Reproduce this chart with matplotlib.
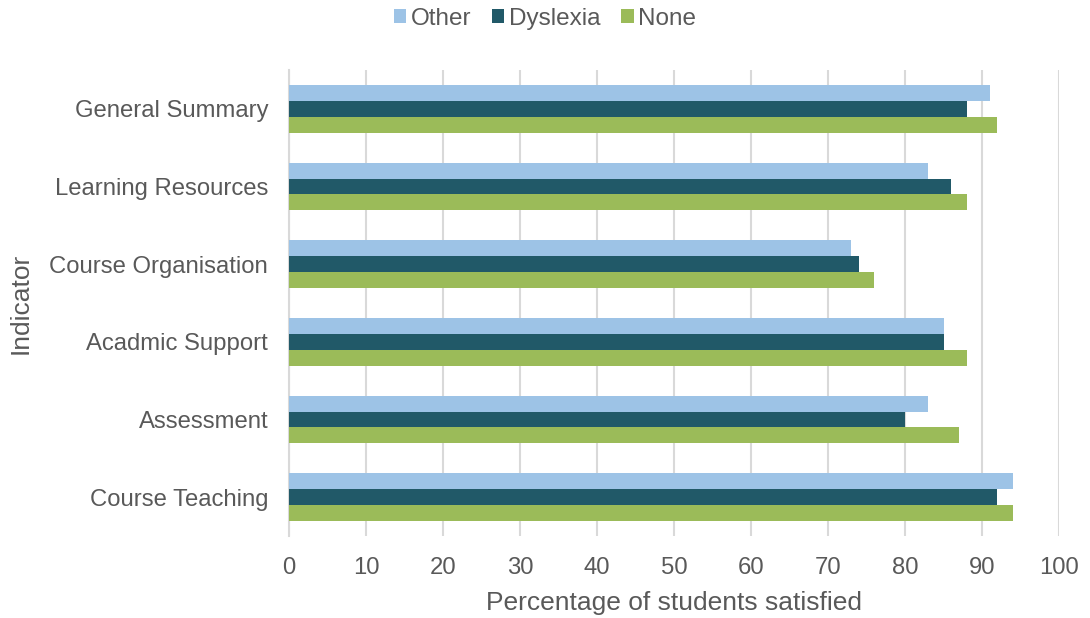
import matplotlib
matplotlib.use("Agg")
import matplotlib.pyplot as plt
import numpy as np

plt.rcParams['font.family'] = ['Liberation Sans', 'DejaVu Sans']

categories = ["General Summary", "Learning Resources", "Course Organisation",
              "Acadmic Support", "Assessment", "Course Teaching"]
other = [91, 83, 73, 85, 83, 94]
dyslexia = [88, 86, 74, 85, 80, 92]
none_ = [92, 88, 76, 88, 87, 94]
series_names = ["Other", "Dyslexia", "None"]
colors = ["#9DC3E6", "#215968", "#9BBB59"]
xticks = [0, 10, 20, 30, 40, 50, 60, 70, 80, 90, 100]

txt = "#595959"
grid = "#D9D9D9"

fig = plt.figure(figsize=(10.9, 6.18), dpi=100)
ax = fig.add_axes([289/1090, 1-536/618, (1059-289)/1090, (536-70)/618])

y = np.arange(len(categories))
h = 0.206
for i, (vals, name, c) in enumerate(zip([other, dyslexia, none_], series_names, colors)):
    ax.barh(y + (i - 1) * h, vals, height=h, color=c, label=name, zorder=3)

ax.set_ylim(len(categories) - 0.5, -0.5)
ax.set_xlim(0, 100)
ax.set_xticks(xticks)
ax.set_xticklabels([str(v) for v in xticks])
ax.set_yticks(y)
ax.set_yticklabels(categories)
ax.grid(axis='x', color=grid, linewidth=1.5, zorder=0)
for s in ['top', 'right', 'bottom']:
    ax.spines[s].set_visible(False)
ax.spines['left'].set_color(grid)
ax.spines['left'].set_linewidth(1.5)
ax.tick_params(axis='both', length=0, labelsize=17.2, labelcolor=txt)
ax.tick_params(axis='x', pad=15)
ax.tick_params(axis='y', pad=15)
ax.set_xlabel("Percentage of students satisfied", fontsize=19, color=txt, labelpad=9)
ax.set_ylabel("Indicator", fontsize=19, color=txt, labelpad=12)

leg = fig.legend(loc='center', bbox_to_anchor=(0.5, 1 - 19/618), ncol=3, frameon=False,
                 fontsize=17.5, handlelength=0.5, handleheight=0.5, handletextpad=0.2,
                 columnspacing=0.86, borderpad=0, borderaxespad=0)
for t in leg.get_texts():
    t.set_color(txt)

fig.savefig("out.png", dpi=100)
